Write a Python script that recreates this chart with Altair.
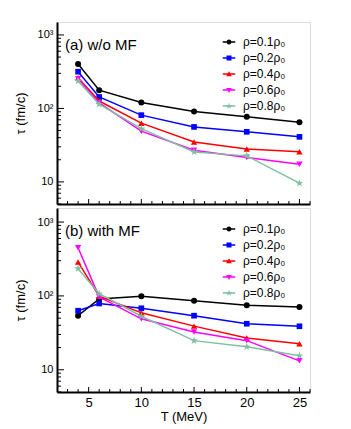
import altair as alt
import pandas as pd

T = [4, 6, 10, 15, 20, 25]
rho_labels = ["ρ=0.1ρ₀", "ρ=0.2ρ₀", "ρ=0.4ρ₀", "ρ=0.6ρ₀", "ρ=0.8ρ₀"]
colors = ["#000000", "#0000ff", "#ff0000", "#ff00ff", "#80c0a0"]

# panel (a) w/o MF
a_r01 = [403, 177, 120, 91, 77, 65]
a_r02 = [316, 143, 81, 56, 48, 41]
a_r04 = [262, 126, 63, 35, 28, 25.8]
a_r06 = [254, 119, 49, 27, 21.4, 17.4]
a_r08 = [237, 114, 53, 25.6, 22.6, 9.6]

# panel (b) with MF
b_r01 = [54, 91, 99, 86, 75, 71]
b_r02 = [63, 79, 68, 54, 42, 38.8]
b_r04 = [287, 99, 59, 39, 26.9, 22.5]
b_r06 = [448, 97, 49, 32.5, 24.8, 13.2]
b_r08 = [234, 107, 53, 24.8, 20.5, 15.5]

x_major = [5, 10, 15, 20, 25]
x_minor = [3, 4, 6, 7, 8, 9, 11, 12, 13, 14, 16, 17, 18, 19, 21, 22, 23, 24, 26]
y_major = [10, 100, 1000]
y_minor = [5, 6, 7, 8, 9, 20, 30, 40, 50, 60, 70, 80, 90,
           200, 300, 400, 500, 600, 700, 800, 900]

STAR = ("M0,-1L0.223,-0.307L0.951,-0.309L0.361,0.117L0.588,0.809L0,0.38"
        "L-0.588,0.809L-0.361,0.117L-0.951,-0.309L-0.223,-0.307Z")
plot_shapes = ["circle", "square", "triangle-up", "triangle-down", STAR]
plot_sizes = [36, 32, 40, 40, 70]

BAR = "M-2.5,-0.3H2.5V0.3H-2.5Z"
legend_shapes = [
    BAR + "M1,0A1,1,0,1,1,-1,0A1,1,0,1,1,1,0Z",
    BAR + "M-1,-1H1V1H-1Z",
    BAR + "M0,-1.15L1.15,0.85H-1.15Z",
    BAR + "M0,1.15L-1.15,-0.85H1.15Z",
    BAR + "M0,-1.35L0.3,-0.42L1.28,-0.42L0.49,0.16L0.79,1.09L0,0.51"
          "L-0.79,1.09L-0.49,0.16L-1.28,-0.42L-0.3,-0.42Z",
]

FONT = "Liberation Sans"


def make_df(series):
    rows = []
    for lab, vals in zip(rho_labels, series):
        for t, v in zip(T, vals):
            rows.append({"T": t, "tau": v, "rho": lab})
    return pd.DataFrame(rows)


def make_panel(series, label, bottom, ydom, h, leg_y):
    df = make_df(series)
    base = alt.Chart(df)
    xs = alt.Scale(domain=[2, 26], nice=False, zero=False)
    ys = alt.Scale(type="log", domain=ydom, nice=False)

    main_x = alt.Axis(
        orient="bottom", values=x_major, ticks=False, grid=False,
        domain=True, domainColor="black", domainWidth=2,
        labels=bottom, labelFontSize=13, labelPadding=4, labelFlush=False,
        title="T (MeV)" if bottom else None, titleFontSize=13,
        titleFontWeight="normal", titlePadding=1)
    main_y = alt.Axis(
        orient="left", values=y_major, ticks=False, grid=False,
        domain=True, domainColor="black", domainWidth=2,
        labelExpr="datum.value == 1000 ? '10³' : datum.value == 100 ? '10²' : '10'",
        labelFontSize=11, labelPadding=4, labelFlush=False,
        title="τ (fm/c)", titleFontSize=13, titleFontWeight="normal",
        titleX=-30, titleY=h / 2, titleAlign="center")

    def X(field):
        return alt.X(field, scale=xs, axis=main_x)

    def Y(field):
        return alt.Y(field, scale=ys, axis=main_y)

    layers = []
    for i, (lab, col) in enumerate(zip(rho_labels, colors)):
        line = base.transform_filter(alt.datum.rho == lab).mark_line(
            color=col, strokeWidth=1.5).encode(x=X("T:Q"), y=Y("tau:Q"))
        pts = base.transform_filter(alt.datum.rho == lab).mark_point(
            filled=True, opacity=1, color=col, shape=plot_shapes[i],
            size=plot_sizes[i]).encode(x=X("T:Q"), y=Y("tau:Q"))
        layers += [line, pts]

    # inward tick marks along the left and bottom frame
    for vals, length in [(y_major, 7), (y_minor, 4)]:
        layers.append(
            alt.Chart(pd.DataFrame({"v": vals})).mark_rule(
                color="black", strokeWidth=1).encode(
                y=Y("v:Q"), x=alt.value(0), x2=alt.value(length)))
    for vals, length in [(x_major, 5), (x_minor, 3)]:
        layers.append(
            alt.Chart(pd.DataFrame({"v": vals})).mark_rule(
                color="black", strokeWidth=1).encode(
                x=X("v:Q"), y=alt.value(h), y2=alt.value(h - length)))

    leg = alt.Legend(title=None, orient="none", legendX=166, legendY=leg_y,
                     labelFontSize=12, labelFont=FONT, rowPadding=4,
                     labelOffset=8, padding=0, symbolSize=25,
                     symbolStrokeWidth=0, symbolOpacity=1)
    carrier = base.transform_filter("datum.T < 0").mark_point(
        filled=True, size=25, opacity=1).encode(
        x=X("T:Q"), y=Y("tau:Q"),
        color=alt.Color("rho:N", scale=alt.Scale(domain=rho_labels, range=colors), legend=leg),
        shape=alt.Shape("rho:N", scale=alt.Scale(domain=rho_labels, range=legend_shapes), legend=leg),
    )
    text = alt.Chart(alt.Data(values=[{"k": 1}])).mark_text(
        align="left", baseline="top", fontSize=15, font=FONT, color="black").encode(
        x=alt.value(8), y=alt.value(16), text=alt.value(label))
    layers += [carrier, text]

    return alt.layer(*layers).properties(width=253, height=h)


top = make_panel([a_r01, a_r02, a_r04, a_r06, a_r08], "(a) w/o MF", False,
                 [5, 1500], 182, 14)
bot = make_panel([b_r01, b_r02, b_r04, b_r06, b_r08], "(b) with MF", True,
                 [5, 1550], 184, 15)

chart = alt.vconcat(top, bot, spacing=2).resolve_scale(
    color="independent", shape="independent"
).properties(
    padding={"left": 5, "top": 13, "right": 5, "bottom": 5}
).configure_view(
    stroke="#444444", strokeWidth=2
).configure(font=FONT).configure_axis(labelFont=FONT, titleFont=FONT,
                                      labelColor="black", titleColor="black")

chart.save("out.html", embed_options={"renderer": "svg", "actions": False})
